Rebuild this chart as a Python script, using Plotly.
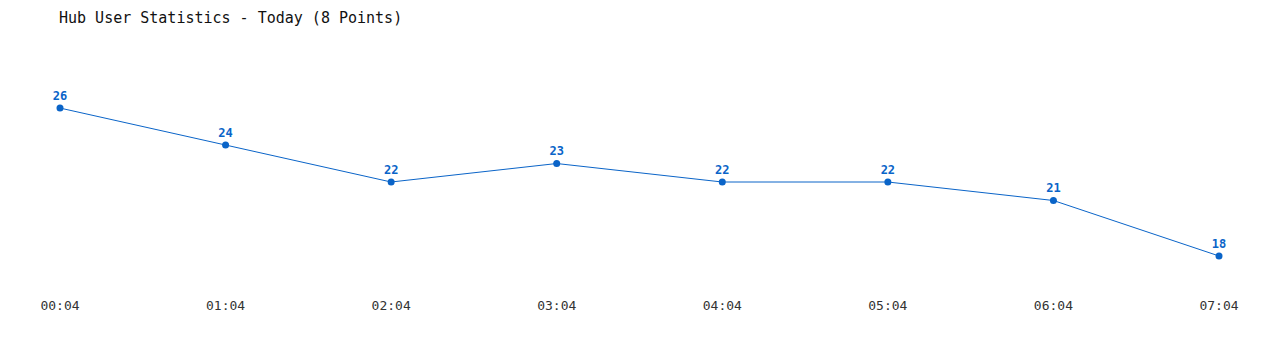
import plotly.graph_objects as go

times = ["00:04", "01:04", "02:04", "03:04", "04:04", "05:04", "06:04", "07:04"]
users = [26, 24, 22, 23, 22, 22, 21, 18]

color = "#0a64c8"

fig = go.Figure(go.Scatter(
    x=list(range(len(times))), y=users,
    mode="lines+markers+text",
    line=dict(color=color, width=1),
    marker=dict(color=color, size=7),
    text=[str(v) for v in users],
    textposition="top center",
    textfont=dict(family="DejaVu Sans Mono", size=12, color=color, weight="bold"),
    cliponaxis=False,
    hoverinfo="skip",
))

fig.update_layout(
    width=1280, height=350,
    margin=dict(l=60, r=61, t=40, b=60),
    paper_bgcolor="white", plot_bgcolor="white",
    showlegend=False,
    title=dict(text="Hub User Statistics - Today (8 Points)", x=59/1280, xanchor="left",
               y=1 - 18/350, yanchor="middle",
               font=dict(family="DejaVu Sans Mono", size=15, color="#111")),
    xaxis=dict(range=[0, 7], tickvals=list(range(len(times))), ticktext=times,
               showgrid=False, zeroline=False, showline=False, ticks="",
               ticklabelstandoff=6,
               tickfont=dict(family="DejaVu Sans Mono", size=13, color="#333")),
    yaxis=dict(range=[16.16, 29.68], visible=False, showgrid=False, zeroline=False),
)
fig.write_html("out.html")
